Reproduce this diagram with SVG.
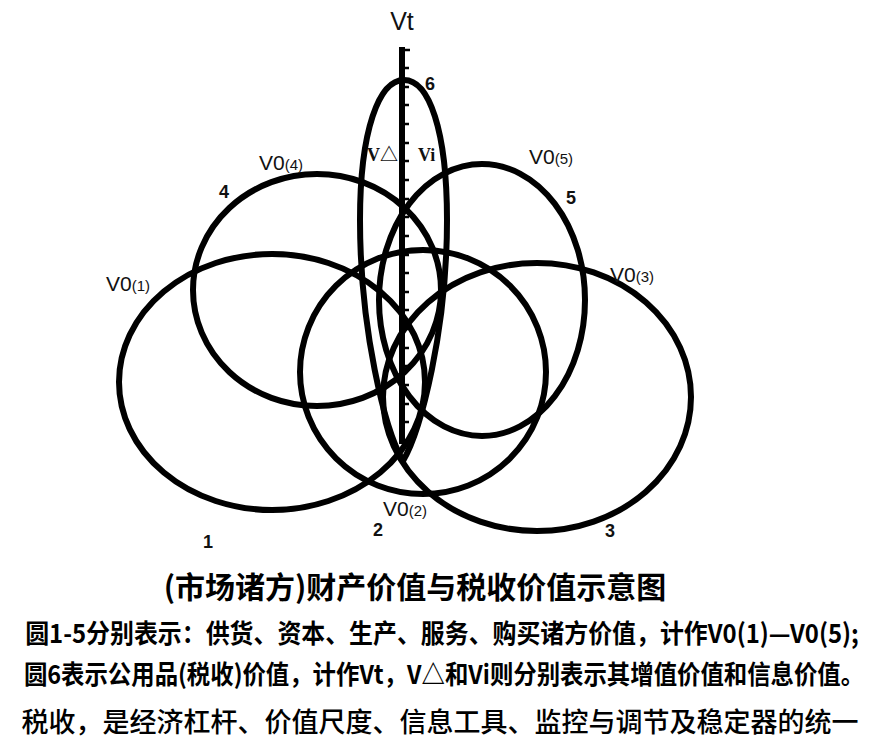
<svg xmlns="http://www.w3.org/2000/svg" width="871" height="746" viewBox="0 0 871 746">
<style>
.e{fill:none;stroke:#000;stroke-width:6}
.lb{font-family:"Liberation Sans","Noto Sans",sans-serif;font-size:21px;fill:#111}
.sub{font-size:15px}
.num{font-family:"Liberation Sans",sans-serif;font-size:18px;font-weight:bold;fill:#111}
.vs{font-family:"Liberation Serif","Noto Sans CJK SC",serif;font-size:18px;font-weight:bold;fill:#111}
.cap{font-family:"Noto Sans CJK SC","Liberation Sans",sans-serif;font-weight:bold;fill:#000}
</style>
<rect width="871" height="746" fill="#fff"/>
<g id="c1"><ellipse class="e" cx="272" cy="382" rx="153" ry="128"/></g>
<g id="c4"><ellipse class="e" cx="317" cy="290" rx="124" ry="116"/></g>
<g id="c2"><ellipse class="e" cx="423" cy="372" rx="123" ry="122"/></g>
<g id="c3"><ellipse class="e" cx="537" cy="397" rx="154" ry="134"/></g>
<g id="c5"><ellipse class="e" cx="482" cy="300" rx="103" ry="136"/></g>
<g id="c6"><path class="e" d="M404,80 C379,80 360,130 360,220 C360,330 385,430 403,461 C421,430 447,330 447,220 C447,130 429,80 404,80 Z"/></g>
<g id="axis">
<line x1="402" y1="47" x2="402" y2="444" stroke="#000" stroke-width="6"/>
<path d="M402 50h8M402 68h7M402 87h7M402 105h7M402 124h7M402 143h7M402 161h7M402 180h7M402 199h7M402 217h7M402 236h7M402 255h7M402 273h7M402 292h7M402 310h7M402 329h7M402 348h7M402 366h7M402 385h7M402 404h7M402 422h7M402 440h7" stroke="#000" stroke-width="2.5" fill="none"/>
<text x="402" y="30" text-anchor="middle" style="font-family:'Liberation Sans',sans-serif;font-size:25px;fill:#111">Vt</text>
</g>
<g id="labels">
<text class="num" x="425" y="90">6</text>
<text class="vs" x="367" y="161">V△</text>
<text class="vs" x="418" y="161">Vi</text>
<text class="lb" x="259" y="170">V0<tspan class="sub">(4)</tspan></text>
<text class="num" x="219" y="198">4</text>
<text class="lb" x="106" y="291">V0<tspan class="sub">(1)</tspan></text>
<text class="lb" x="529" y="164">V0<tspan class="sub">(5)</tspan></text>
<text class="num" x="566" y="204">5</text>
<text class="lb" x="610" y="282">V0<tspan class="sub">(3)</tspan></text>
<text class="lb" x="383" y="516">V0<tspan class="sub">(2)</tspan></text>
<text class="num" x="203" y="548">1</text>
<text class="num" x="373" y="536">2</text>
<text class="num" x="605" y="537">3</text>
</g>
<g id="caption">
<text class="cap" x="415" y="598" font-size="30" text-anchor="middle">(市场诸方)财产价值与税收价值示意图</text>
<text class="cap" transform="translate(442,643) scale(0.92,1)" x="0" y="0" font-size="26" text-anchor="middle">圆1-5分别表示：供货、资本、生产、服务、购买诸方价值，计作V0(1)—V0(5);</text>
<text class="cap" transform="translate(444,684) scale(0.9,1)" x="0" y="0" font-size="26" text-anchor="middle">圆6表示公用品(税收)价值，计作Vt，V△和Vi则分别表示其增值价值和信息价值。</text>
<text class="cap" x="440" y="732" font-size="27" style="font-weight:500" text-anchor="middle">税收，是经济杠杆、价值尺度、信息工具、监控与调节及稳定器的统一</text>
</g>
</svg>
